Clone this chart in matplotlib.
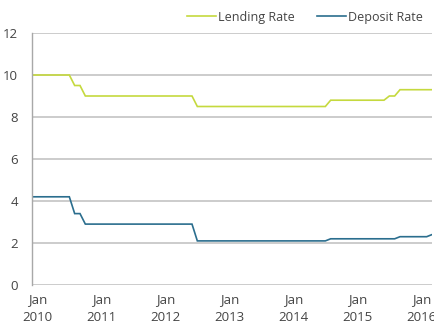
import matplotlib
matplotlib.use("Agg")
import matplotlib.pyplot as plt
from matplotlib.lines import Line2D

# Monthly rates, Dec 2009 through Mar 2016
months = [f"{y}-{m:02d}" for y in range(2009, 2017) for m in range(1, 13)]
months = months[11:11 + 76]

lending_rate = (
    [10.0] * 8 + [9.5] * 2 + [9.0] * 21 + [8.5] * 25 + [8.8] * 11
    + [9.0] * 2 + [9.3] * 7
)
deposit_rate = (
    [4.2] * 8 + [3.4] * 2 + [2.9] * 21 + [2.1] * 25 + [2.2] * 13
    + [2.3] * 6 + [2.4] * 1
)

tick_labels = ["Jan\n2010", "Jan\n2011", "Jan\n2012", "Jan\n2013",
               "Jan\n2014", "Jan\n2015", "Jan\n2016"]
tick_months = ["2010-01", "2011-01", "2012-01", "2013-01",
               "2014-01", "2015-01", "2016-01"]
y_ticks = [0, 2, 4, 6, 8, 10, 12]

LEND_COLOR = "#c5d93e"
DEP_COLOR = "#2b6e8e"
GRID_COLOR = "#c4c4c4"
TEXT_COLOR = "#444444"

plt.rcParams["font.family"] = ["Open Sans", "DejaVu Sans"]

fig = plt.figure(figsize=(4.34, 3.27), dpi=100)
ax = fig.add_axes([32 / 434, 1 - 285 / 327, 400 / 434, 252 / 327])

x = list(range(len(months)))
ax.plot(x, lending_rate, color=LEND_COLOR, lw=1.2, solid_joinstyle="miter")
ax.plot(x, deposit_rate, color=DEP_COLOR, lw=1.2, solid_joinstyle="miter")

ax.set_xlim(0, len(months) - 1)
ax.set_ylim(0, 12)
ax.set_yticks(y_ticks)
ax.set_yticklabels([str(v) for v in y_ticks])
ax.set_xticks([months.index(m) for m in tick_months])
ax.set_xticklabels(tick_labels, linespacing=1.5)

ax.grid(axis="y", color=GRID_COLOR, lw=1.2)
ax.set_axisbelow(True)
for side in ("top", "right", "bottom"):
    ax.spines[side].set_visible(False)
ax.spines["left"].set_color("#a8a8a8")
ax.spines["left"].set_linewidth(1.0)
ax.tick_params(length=0, labelsize=9.5, labelcolor=TEXT_COLOR)
ax.tick_params(axis="y", pad=10)
ax.tick_params(axis="x", pad=6)

handles = [Line2D([], [], color=LEND_COLOR, lw=1.2),
           Line2D([], [], color=DEP_COLOR, lw=1.2)]
fig.legend(handles, ["Lending Rate", "Deposit Rate"], loc="center right",
           bbox_to_anchor=(1.0, 1 - 17 / 327), ncol=2, frameon=False,
           fontsize=9, labelcolor=TEXT_COLOR, handlelength=2.3,
           handletextpad=0.15, columnspacing=1.8, borderaxespad=0.5)

fig.savefig("out.png", dpi=100)
